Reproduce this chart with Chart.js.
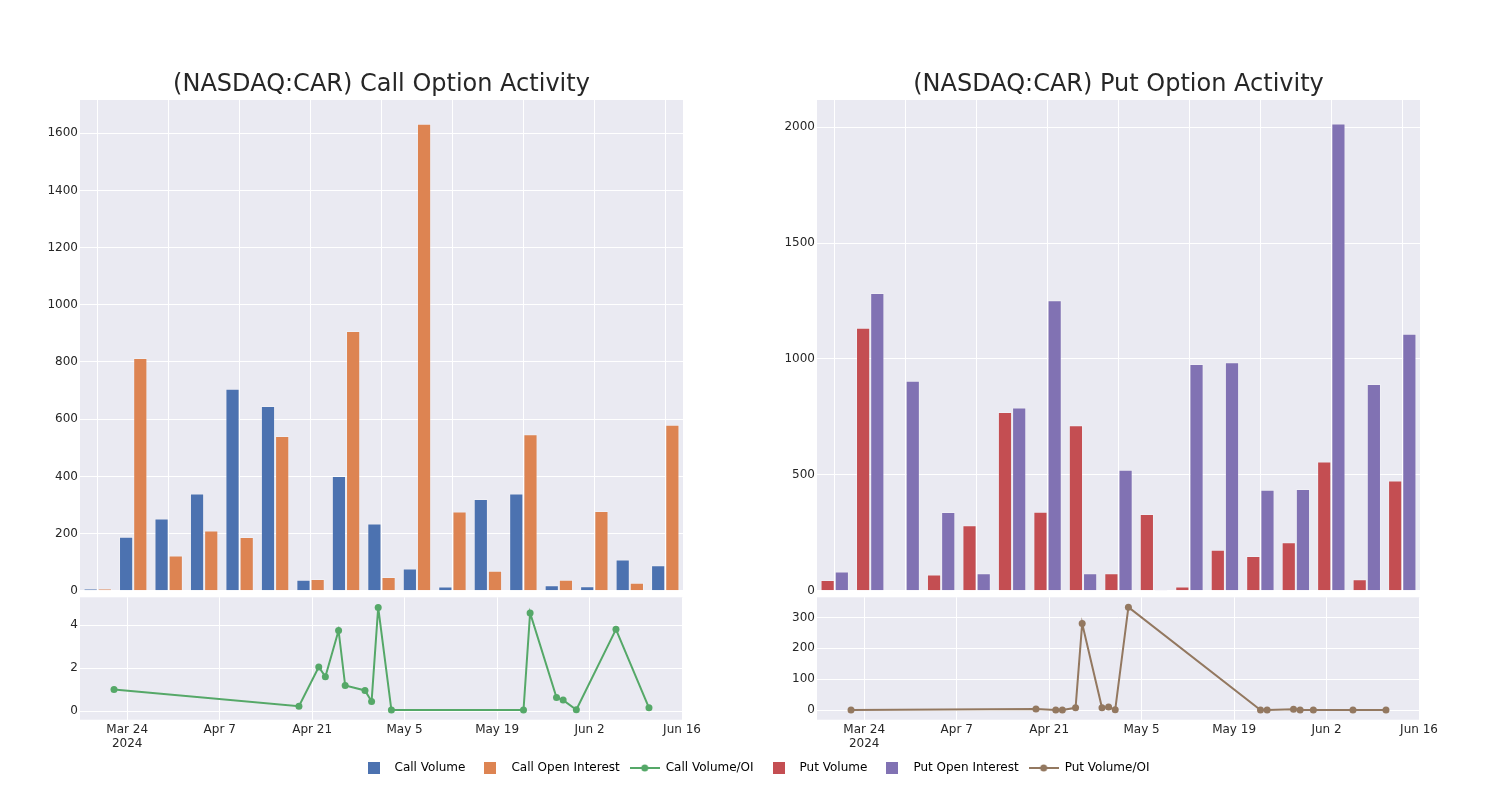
<!DOCTYPE html>
<html>
<head>
<meta charset="utf-8">
<script src="https://cdn.jsdelivr.net/npm/chart.js@4.4.1/dist/chart.umd.min.js"></script>
<style>
  body { margin: 0; background: #ffffff; }
  #wrap { position: relative; width: 1500px; height: 800px; overflow: hidden; }
  canvas { position: absolute; }
</style>
</head>
<body>
<div id="wrap">
  <canvas id="callBars" width="690" height="540" style="left:0px;top:60px"></canvas>
  <canvas id="putBars" width="690" height="540" style="left:737px;top:60px"></canvas>
  <canvas id="callLine" width="720" height="175" style="left:0px;top:585px"></canvas>
  <canvas id="putLine" width="720" height="175" style="left:737px;top:585px"></canvas>
  <canvas id="legend" width="1500" height="50" style="left:0px;top:752px"></canvas>
</div>
<script>
// Trading days that had option activity
const tradeDates = ['2024-03-22', '2024-04-19', '2024-04-22', '2024-04-23', '2024-04-25', '2024-04-26',
  '2024-04-29', '2024-04-30', '2024-05-01', '2024-05-03', '2024-05-23', '2024-05-24',
  '2024-05-28', '2024-05-29', '2024-05-31', '2024-06-06', '2024-06-11']

// Calls
const callVolume = [8, 189, 253, 340, 706, 646, 39, 401, 235, 78, 15, 321, 340, 19, 16, 109, 89]
const callOpenInterest = [8, 814, 123, 211, 188, 541, 41, 908, 48, 1633, 277, 70, 547, 39, 279, 28, 581]
const callRatio = [1.0, 0.23, 2.05, 1.6, 3.75, 1.19, 0.96, 0.45, 4.82, 0.05, 0.05, 4.56, 0.63, 0.51, 0.06, 3.8, 0.15]

// Puts
const putVolume = [47, 1135, 0, 70, 283, 771, 341, 714, 76, 331, 19, 177, 150, 209, 558, 50, 476]
const putOpenInterest = [83, 1285, 906, 340, 76, 791, 1253, 76, 522, 1, 978, 986, 436, 439, 2016, 892, 1109]
const putRatio = [0.6, 4, 0, 0.2, 7.5, 280, 7.5, 9.7, 1, 333, 0, 0, 3, 0, 0, 0, 0]

// Axis ticks
const xTickDates = ['2024-03-24', '2024-04-07', '2024-04-21', '2024-05-05', '2024-05-19', '2024-06-02', '2024-06-16']
const xTickLabels = [['Mar 24', '2024'], 'Apr 7', 'Apr 21', 'May 5', 'May 19', 'Jun 2', 'Jun 16']
const callBarTicks = [0, 200, 400, 600, 800, 1000, 1200, 1400, 1600]
const putBarTicks = [0, 500, 1000, 1500, 2000]
const callRatioTicks = [0, 2, 4]
const putRatioTicks = [0, 100, 200, 300]

// Formatting
const fontFamily = 'DejaVu Sans'
const textColor = '#262626'
const plotColor = '#EAEAF2'
const gridColor = '#ffffff'

// days counted from 10 Mar 2024 so that tick dates fall on whole numbers
const baseDay = Date.UTC(2024, 2, 10)
function dayNum(s) {
    const p = s.split('-')
    return (Date.UTC(+p[0], p[1] - 1, +p[2]) - baseDay) / 86400000
}
const xMin = dayNum(tradeDates[0]) - 5.15
const xMax = dayNum(tradeDates[tradeDates.length - 1]) + 5.15

// grey plot background like seaborn darkgrid
const plotBg = {
    id: 'plotBg',
    beforeDraw(chart) {
        const a = chart.chartArea
        if (!a) return
        const c = chart.ctx
        c.save()
        c.fillStyle = plotColor
        c.fillRect(a.left, a.top, a.right - a.left, a.bottom - a.top)
        c.restore()
    }
}

function fixedTicks(values) {
    return (scale) => { scale.ticks = values.map(v => ({ value: v })) }
}

function yAxis(min, max, ticks) {
    return {
        min: min,
        max: max,
        afterFit: (s) => { s.width = 80 },
        afterBuildTicks: fixedTicks(ticks),
        grid: { color: gridColor, lineWidth: 1, drawTicks: false },
        border: { display: false },
        ticks: {
            color: textColor,
            font: { family: fontFamily, size: 12 },
            padding: 2,
            callback: (v) => String(v)
        }
    }
}

// Draws the grouped bar chart with title
function drawBars(id, title, names, values, colors, yMax, yTicks) {
    const datasets = names.map((n, i) => ({
        label: n,
        data: values[i],
        backgroundColor: colors[i],
        borderColor: 'rgba(255,255,255,0.25)',
        borderWidth: 1,
        categoryPercentage: 0.8,
        barPercentage: 1.0
    }))
    return new Chart(document.getElementById(id), {
        type: 'bar',
        data: { labels: tradeDates, datasets: datasets },
        options: {
            responsive: false,
            animation: false,
            layout: { padding: { left: 0, right: 7, top: 0, bottom: 8.5 } },
            plugins: {
                legend: { display: false },
                tooltip: { enabled: false },
                title: {
                    display: true,
                    text: title,
                    fullSize: false,
                    color: textColor,
                    font: { family: fontFamily, size: 24, weight: 'normal' },
                    padding: { top: 10.4, bottom: 0.8 }
                }
            },
            scales: {
                x: {
                    grid: {
                        offset: false,
                        drawTicks: false,
                        lineWidth: 1,
                        color: (ctx) => ctx.index % 2 === 0 ? gridColor : 'rgba(0,0,0,0)'
                    },
                    border: { display: false },
                    ticks: { display: false, autoSkip: false }
                },
                y: yAxis(0, yMax, yTicks)
            }
        },
        plugins: [plotBg]
    })
}

// Draws the volume / open interest ratio line under the bars
function drawRatio(id, name, ratio, color, yMin, yMax, yTicks) {
    return new Chart(document.getElementById(id), {
        type: 'line',
        data: {
            datasets: [{
                label: name,
                data: tradeDates.map((d, i) => ({ x: dayNum(d), y: ratio[i] })),
                borderColor: color,
                backgroundColor: color,
                borderWidth: 2,
                pointRadius: 3.5,
                pointBorderWidth: 0,
                tension: 0
            }]
        },
        options: {
            responsive: false,
            animation: false,
            layout: { padding: { left: 0, right: 37, top: 12.3, bottom: 0.3 } },
            plugins: { legend: { display: false }, tooltip: { enabled: false } },
            scales: {
                x: {
                    type: 'linear',
                    min: xMin,
                    max: xMax,
                    afterFit: (s) => { s.height = 40 },
                    afterBuildTicks: fixedTicks(xTickDates.map(dayNum)),
                    grid: { color: gridColor, lineWidth: 1, drawTicks: false },
                    border: { display: false },
                    ticks: {
                        color: textColor,
                        font: { family: fontFamily, size: 12 },
                        padding: 3,
                        maxRotation: 0,
                        autoSkip: false,
                        callback: (v, i) => xTickLabels[i]
                    }
                },
                y: yAxis(yMin, yMax, yTicks)
            }
        },
        plugins: [plotBg]
    })
}

drawBars('callBars', '(NASDAQ:CAR) Call Option Activity', ['Call Volume', 'Call Open Interest'],
    [callVolume, callOpenInterest], ['#4C72B0', '#DD8452'], 1716, callBarTicks)
drawBars('putBars', '(NASDAQ:CAR) Put Option Activity', ['Put Volume', 'Put Open Interest'],
    [putVolume, putOpenInterest], ['#C44E52', '#8172B3'], 2117, putBarTicks)
drawRatio('callLine', 'Call Volume/OI', callRatio, '#55A868', -0.4, 5.29, callRatioTicks)
drawRatio('putLine', 'Put Volume/OI', putRatio, '#937860', -31, 365, putRatioTicks)

// Legend swatches
function squareSwatch(color) {
    const c = document.createElement('canvas')
    c.width = 12
    c.height = 12
    const g = c.getContext('2d')
    g.fillStyle = color
    g.fillRect(0, 0, 12, 12)
    return c
}
function lineSwatch(color) {
    const c = document.createElement('canvas')
    c.width = 30
    c.height = 10
    const g = c.getContext('2d')
    g.strokeStyle = color
    g.lineWidth = 2
    g.beginPath()
    g.moveTo(0, 5)
    g.lineTo(30, 5)
    g.stroke()
    g.fillStyle = color
    g.beginPath()
    g.arc(15, 5, 3.5, 0, Math.PI * 2)
    g.fill()
    return c
}

const legendNames = ['Call Volume', 'Call Open Interest', 'Call Volume/OI', 'Put Volume', 'Put Open Interest', 'Put Volume/OI']
const legendColors = ['#4C72B0', '#DD8452', '#55A868', '#C44E52', '#8172B3', '#937860']
const legendKinds = ['bar', 'bar', 'line', 'bar', 'bar', 'line']

new Chart(document.getElementById('legend'), {
    type: 'bar',
    data: {
        labels: [],
        datasets: legendNames.map((n, i) => ({
            label: n,
            type: legendKinds[i],
            data: [],
            backgroundColor: legendColors[i],
            borderColor: legendColors[i]
        }))
    },
    options: {
        responsive: false,
        animation: false,
        layout: { padding: { left: 8 } },
        scales: { x: { display: false }, y: { display: false } },
        plugins: {
            tooltip: { enabled: false },
            legend: {
                display: true,
                position: 'top',
                onClick: null,
                labels: {
                    usePointStyle: true,
                    pointStyleWidth: 30,
                    padding: 10,
                    color: textColor,
                    font: { family: fontFamily, size: 12 },
                    generateLabels: (chart) => chart.data.datasets.map((ds, i) => ({
                        text: ds.label,
                        pointStyle: legendKinds[i] === 'bar' ? squareSwatch(legendColors[i]) : lineSwatch(legendColors[i]),
                        fillStyle: legendColors[i],
                        strokeStyle: legendColors[i],
                        lineWidth: 0,
                        hidden: false,
                        datasetIndex: i
                    }))
                }
            }
        }
    }
})
</script>
</body>
</html>
